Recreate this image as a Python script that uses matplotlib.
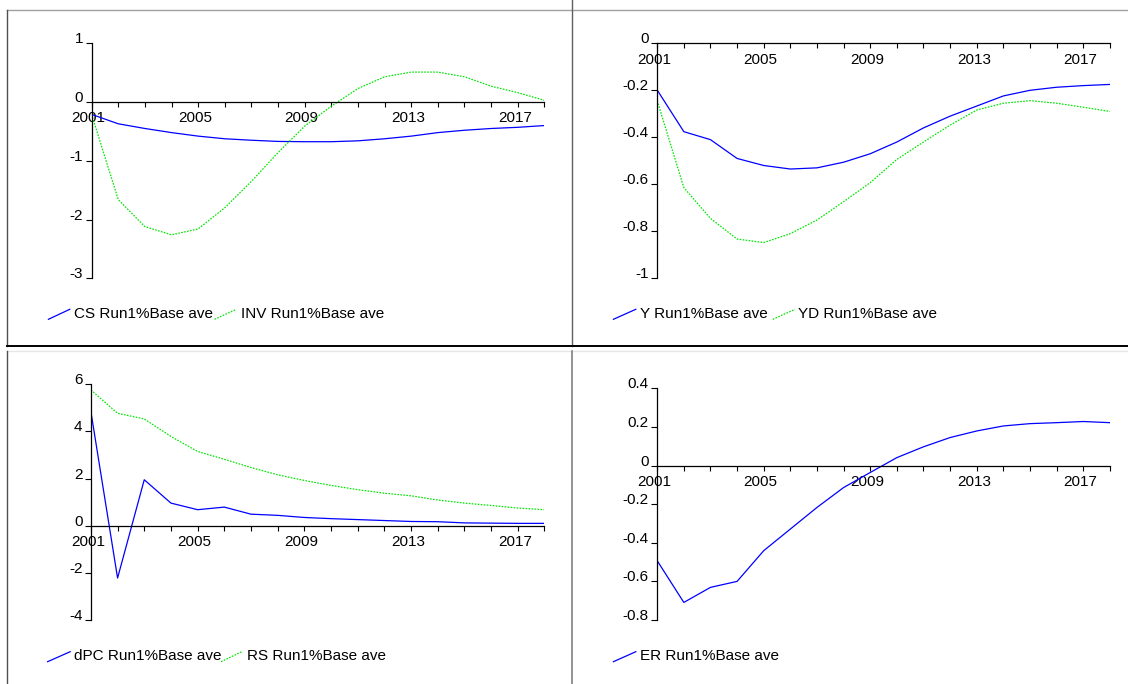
"""
Run1% vs Base: four EViews-style panels (CS/INV, Y/YD, dPC/RS, ER)
"""
import matplotlib

matplotlib.use("Agg")
import matplotlib.pyplot as plt
from matplotlib.lines import Line2D
from matplotlib.transforms import ScaledTranslation

W, H = 1128, 684
FS = 11

# ── data ──
years = list(range(2001, 2019))

cs = [-0.21, -0.37, -0.45, -0.52, -0.58, -0.625, -0.65, -0.67, -0.675,
      -0.675, -0.66, -0.625, -0.58, -0.52, -0.48, -0.45, -0.43, -0.40]
inv = [-0.21, -1.66, -2.12, -2.26, -2.16, -1.80, -1.35, -0.86, -0.41,
       -0.07, 0.23, 0.43, 0.51, 0.51, 0.43, 0.27, 0.16, 0.03]

y = [-0.199, -0.376, -0.41, -0.49, -0.52, -0.535, -0.53, -0.506, -0.47,
     -0.42, -0.36, -0.31, -0.267, -0.224, -0.20, -0.187, -0.18, -0.175]
yd = [-0.244, -0.614, -0.745, -0.833, -0.848, -0.81, -0.752, -0.674, -0.593,
      -0.494, -0.42, -0.348, -0.284, -0.255, -0.244, -0.255, -0.272, -0.29]

dpc = [4.84, -2.22, 1.95, 0.96, 0.68, 0.79, 0.49, 0.44, 0.35,
       0.30, 0.26, 0.22, 0.18, 0.17, 0.12, 0.11, 0.10, 0.10]
rs = [5.76, 4.77, 4.53, 3.79, 3.15, 2.82, 2.47, 2.16, 1.92,
      1.71, 1.53, 1.38, 1.27, 1.09, 0.96, 0.86, 0.75, 0.68]

er = [-0.493, -0.709, -0.631, -0.60, -0.441, -0.329, -0.217, -0.114, -0.036,
      0.041, 0.097, 0.145, 0.179, 0.205, 0.217, 0.222, 0.228, 0.222]

xlabels = [str(yr) if (yr - 2001) % 4 == 0 else "" for yr in years]

tl_yticks = [-3, -2, -1, 0, 1]
tl_ylabels = ["-3", "-2", "-1", "0", "1"]
tr_yticks = [-1, -0.8, -0.6, -0.4, -0.2, 0]
tr_ylabels = ["-1", "-0.8", "-0.6", "-0.4", "-0.2", "0"]
bl_yticks = [-4, -2, 0, 2, 4, 6]
bl_ylabels = ["-4", "-2", "0", "2", "4", "6"]
br_yticks = [-0.8, -0.6, -0.4, -0.2, 0, 0.2, 0.4]
br_ylabels = ["-0.8", "-0.6", "-0.4", "-0.2", "0", "0.2", "0.4"]

BLUE = "#0000ff"
GREEN = "#00e600"
GREEN_LS = (0, (1.3, 1.1))

plt.rcParams["font.family"] = ["Liberation Sans", "DejaVu Sans"]

fig = plt.figure(figsize=(W / 100, H / 100), dpi=100)


def px_axes(x0, x1, ytop, ybot):
    """axes from pixel box (origin top-left)"""
    return fig.add_axes([x0 / W, 1 - ybot / H, (x1 - x0) / W, (ybot - ytop) / H])


def style(ax, ylim, yticks, ylabels):
    ax.set_xlim(2001, 2018)
    ax.set_ylim(*ylim)
    ax.patch.set_alpha(0)
    for s in ("top", "right"):
        ax.spines[s].set_visible(False)
    ax.spines["bottom"].set_position(("data", 0))
    for s in ("left", "bottom"):
        ax.spines[s].set_linewidth(0.9)
    ax.set_xticks(years)
    ax.set_xticklabels(xlabels)
    ax.set_yticks(yticks)
    ax.set_yticklabels(ylabels)
    ax.tick_params(axis="x", direction="out", length=3.3, width=0.8, pad=3.5, labelsize=FS)
    ax.tick_params(axis="y", direction="out", length=4, width=0.8, pad=2, labelsize=FS)
    for lab in ax.get_yticklabels():
        lab.set_verticalalignment("baseline")
    shift = ScaledTranslation(-3 / 100, 0, fig.dpi_scale_trans)
    for lab in ax.get_xticklabels():
        lab.set_transform(lab.get_transform() + shift)


def legend_entry(x0, x1, y0, y1, tx, ty, label, **kw):
    fig.add_artist(Line2D([x0 / W, x1 / W], [1 - y0 / H, 1 - y1 / H],
                          transform=fig.transFigure, **kw))
    fig.text(tx / W, 1 - ty / H, label, fontsize=FS, va="center", ha="left")


def border(xs, ys, color, lw):
    fig.add_artist(Line2D([x / W for x in xs], [1 - v / H for v in ys],
                          transform=fig.transFigure, color=color, linewidth=lw))


# ── panel frames ──
border([6.5, W], [9.5, 9.5], "#a0a0a0", 1.0)
border([6.5, 6.5], [9.5, 346], "#505050", 1.0)
border([572, 572], [0, 346], "#606060", 1.0)
border([6.5, W], [346, 346], "black", 1.4)
border([6.5, W], [351, 351], "#e6e6e6", 1.0)
border([6.5, 6.5], [351, H], "#505050", 1.0)
border([572, 572], [351, H], "#808080", 1.2)

# ── top left: CS / INV ──
ax = px_axes(91.6, 544.4, 43.3, 278.3)
style(ax, (-3, 1), tl_yticks, tl_ylabels)
ax.plot(years, cs, color=BLUE, linewidth=0.9)
ax.plot(years, inv, color=GREEN, linewidth=0.9, linestyle=GREEN_LS)
legend_entry(48.4, 69.8, 319.3, 309.3, 74.5, 314, "CS Run1%Base ave", color=BLUE, linewidth=0.9)
legend_entry(214.5, 236.4, 319.3, 309.3, 240.7, 314, "INV Run1%Base ave",
             color=GREEN, linewidth=0.9, linestyle=GREEN_LS)

# ── top right: Y / YD ──
ax = px_axes(657.2, 1109.9, 43.3, 278.3)
style(ax, (-1, 0), tr_yticks, tr_ylabels)
ax.plot(years, y, color=BLUE, linewidth=0.9)
ax.plot(years, yd, color=GREEN, linewidth=0.9, linestyle=GREEN_LS)
legend_entry(613.4, 635.8, 319.3, 309.3, 640.1, 314, "Y Run1%Base ave", color=BLUE, linewidth=0.9)
legend_entry(772.8, 794.9, 319.3, 309.3, 797.8, 314, "YD Run1%Base ave",
             color=GREEN, linewidth=0.9, linestyle=GREEN_LS)

# ── bottom left: dPC / RS ──
ax = px_axes(90.9, 544.4, 384.3, 620)
style(ax, (-4, 6), bl_yticks, bl_ylabels)
ax.plot(years, dpc, color=BLUE, linewidth=0.9)
ax.plot(years, rs, color=GREEN, linewidth=0.9, linestyle=GREEN_LS)
legend_entry(47.6, 70.2, 661.7, 651.7, 73.8, 655.7, "dPC Run1%Base ave", color=BLUE, linewidth=0.9)
legend_entry(221, 241.8, 661.7, 651.7, 246.9, 655.7, "RS Run1%Base ave",
             color=GREEN, linewidth=0.9, linestyle=GREEN_LS)

# ── bottom right: ER ──
ax = px_axes(657.2, 1109.9, 388.3, 620)
style(ax, (-0.8, 0.4), br_yticks, br_ylabels)
ax.plot(years, er, color=BLUE, linewidth=0.9)
legend_entry(613.4, 635.8, 661.7, 651.7, 640.1, 655.7, "ER Run1%Base ave", color=BLUE, linewidth=0.9)

fig.savefig("out.png", dpi=100)
plt.close(fig)
